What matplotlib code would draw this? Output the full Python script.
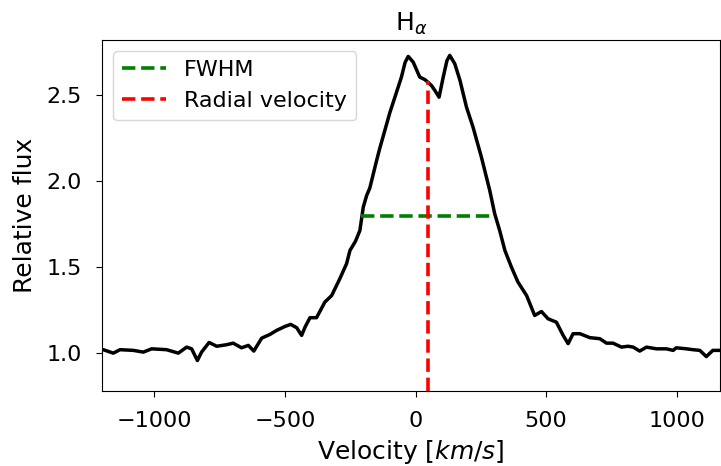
import numpy as np
import matplotlib
matplotlib.use('Agg')
import matplotlib.pyplot as plt

# velocity [km/s] and relative flux
velocity = [-1200, -1195, -1157, -1131, -1080, -1042, -1010, -953, -908, -876, -857, -835, -819,
            -790, -761, -723, -698, -666, -640, -619, -589, -557, -532, -500, -478, -455,
            -436, -423, -404, -379, -347, -321, -290, -264, -251, -230, -213, -200, -187,
            -175, -149, -137, -111, -98, -79, -54, -40, -28, -9, 16, 36, 61, 74, 90, 106,
            120, 131, 150, 170, 195, 220, 252, 284, 303, 322, 342, 367, 392, 425, 456,
            482, 507, 539, 565, 584, 603, 629, 667, 705, 731, 756, 788, 813, 833, 858,
            884, 922, 960, 986, 998, 1037, 1062, 1088, 1113, 1138, 1167]
flux = [1.02, 1.02, 1.00, 1.02, 1.016, 1.006, 1.025, 1.02, 1.0, 1.035, 1.025, 0.957, 1.006,
        1.062, 1.04, 1.049, 1.058, 1.031, 1.045, 1.012, 1.087, 1.109, 1.132, 1.155, 1.167, 1.148,
        1.103, 1.151, 1.206, 1.206, 1.297, 1.335, 1.432, 1.52, 1.597, 1.65, 1.713, 1.849, 1.917,
        1.96, 2.12, 2.19, 2.33, 2.40, 2.488, 2.605, 2.69, 2.725, 2.692, 2.605, 2.59, 2.556, 2.527, 2.488, 2.605,
        2.70, 2.731, 2.683, 2.586, 2.43, 2.314, 2.14, 1.946, 1.81, 1.713, 1.597, 1.5, 1.413, 1.335, 1.219,
        1.242, 1.2, 1.18, 1.103, 1.055, 1.113, 1.113, 1.09, 1.084, 1.058, 1.058, 1.035, 1.04, 1.035, 1.012,
        1.035, 1.025, 1.025, 1.016, 1.031, 1.025, 1.02, 1.016, 0.98, 1.016, 1.016]

fwhm_v = [-207, 303]
fwhm_level = 1.80
rv = 46
rv_top = 2.58

fig = plt.figure(figsize=(7.21, 4.66), dpi=100)
ax = fig.add_axes([0.1415, 0.161, 0.857, 0.753])

ax.plot(velocity, flux, color='black', lw=2.5)
ax.plot(fwhm_v, [fwhm_level, fwhm_level], color='green', ls='--', lw=2.6, label='FWHM')
ax.plot([rv, rv], [0.78, rv_top], color='red', ls='--', lw=2.6, label='Radial velocity')

ax.set_xlim(-1200, 1165)
ax.set_ylim(0.78, 2.82)
ax.set_yticks([1.0, 1.5, 2.0, 2.5])
ax.tick_params(labelsize=16, length=4.5)
ax.tick_params(axis='x', pad=10)
ax.tick_params(axis='y', pad=10)
ax.set_xlabel('Velocity [$km/s$]', fontsize=18, labelpad=5)
ax.set_ylabel('Relative flux', fontsize=18, labelpad=7)
ax.set_title(r'H$_\alpha$', fontsize=18, pad=7)
ax.legend(loc='upper left', fontsize=16)

fig.savefig('out.png', dpi=100)
